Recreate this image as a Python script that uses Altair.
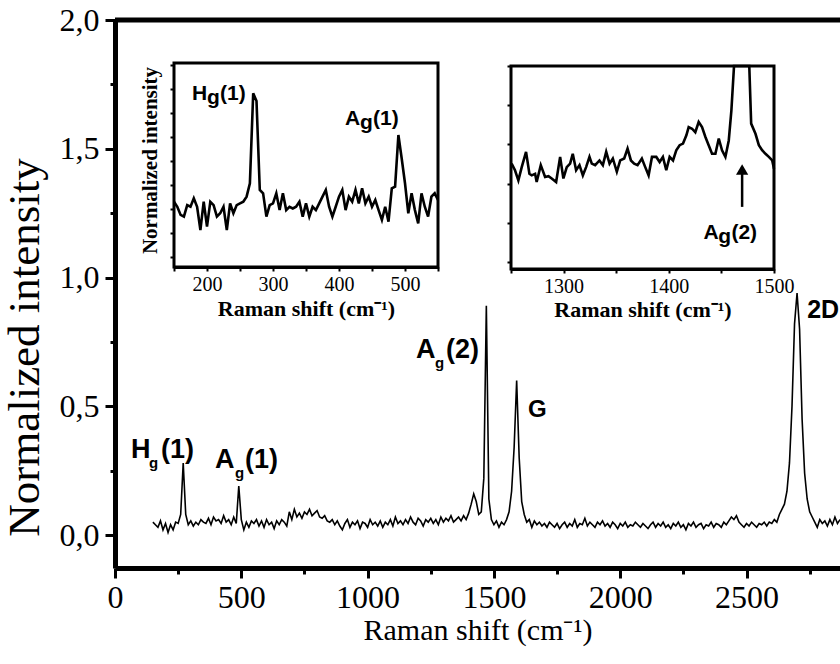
import altair as alt
import pandas as pd

# ---------------- main spectrum ----------------
main_start = 150
main_step = 10
main_intensity = [
    # 150-240
    0.050, 0.040, 0.030, 0.055, 0.020, 0.045, 0.010, 0.040, 0.020, 0.050,
    # 250-340
    0.045, 0.080, 0.280, 0.080, 0.040, 0.055, 0.035, 0.050, 0.040, 0.060,
    # 350-440
    0.050, 0.045, 0.065, 0.040, 0.070, 0.055, 0.060, 0.045, 0.075, 0.050,
    # 450-540
    0.060, 0.040, 0.070, 0.045, 0.190, 0.060, 0.020, 0.050, 0.030, 0.055,
    # 550-640
    0.045, 0.060, 0.035, 0.055, 0.030, 0.060, 0.040, 0.050, 0.025, 0.055,
    # 650-740
    0.040, 0.060, 0.050, 0.035, 0.090, 0.060, 0.100, 0.070, 0.085, 0.065,
    # 750-840
    0.090, 0.080, 0.100, 0.075, 0.085, 0.095, 0.070, 0.065, 0.075, 0.055,
    # 850-940
    0.050, 0.060, 0.040, 0.055, 0.035, 0.020, 0.045, 0.060, 0.030, 0.050,
    # 950-1040
    0.040, 0.055, 0.025, 0.050, 0.045, 0.030, 0.060, 0.040, 0.050, 0.035,
    # 1050-1140
    0.055, 0.030, 0.050, 0.040, 0.060, 0.035, 0.070, 0.045, 0.055, 0.040,
    # 1150-1240
    0.060, 0.045, 0.070, 0.050, 0.040, 0.065, 0.055, 0.035, 0.060, 0.050,
    # 1250-1340
    0.065, 0.045, 0.060, 0.040, 0.070, 0.050, 0.065, 0.055, 0.075, 0.050,
    # 1350-1440
    0.060, 0.070, 0.055, 0.075, 0.060, 0.085, 0.120, 0.160, 0.130, 0.080,
    # 1450-1540
    0.090, 0.220, 0.890, 0.140, 0.060, 0.040, 0.055, 0.030, 0.050, 0.040,
    # 1550-1640
    0.060, 0.090, 0.170, 0.340, 0.600, 0.300, 0.130, 0.080, 0.050, 0.060,
    # 1650-1740
    0.030, 0.055, 0.040, 0.050, 0.035, 0.045, 0.030, 0.050, 0.040, 0.030,
    # 1750-1840
    0.045, 0.025, 0.040, 0.050, 0.030, 0.045, 0.035, 0.060, 0.030, 0.045,
    # 1850-1940
    0.040, 0.065, 0.035, 0.050, 0.040, 0.030, 0.050, 0.040, 0.055, 0.035,
    # 1950-2040
    0.045, 0.030, 0.050, 0.040, 0.025, 0.045, 0.035, 0.050, 0.030, 0.040,
    # 2050-2140
    0.035, 0.050, 0.040, 0.030, 0.045, 0.035, 0.025, 0.040, 0.050, 0.030,
    # 2150-2240
    0.045, 0.035, 0.050, 0.030, 0.040, 0.025, 0.045, 0.035, 0.050, 0.030,
    # 2250-2340
    0.040, 0.020, 0.045, 0.035, 0.050, 0.030, 0.040, 0.045, 0.025, 0.040,
    # 2350-2440
    0.035, 0.050, 0.030, 0.045, 0.040, 0.030, 0.050, 0.040, 0.055, 0.070,
    # 2450-2540
    0.060, 0.075, 0.050, 0.040, 0.030, 0.045, 0.035, 0.050, 0.040, 0.030,
    # 2550-2640
    0.045, 0.040, 0.050, 0.035, 0.050, 0.045, 0.060, 0.050, 0.080, 0.100,
    # 2650-2740
    0.120, 0.170, 0.280, 0.500, 0.820, 0.940, 0.800, 0.450, 0.240, 0.140,
    # 2750-2840
    0.090, 0.070, 0.050, 0.030, 0.060, 0.045, 0.055, 0.035, 0.060, 0.040,
    # 2850-2870
    0.070, 0.045, 0.060,
]
main_shift = [main_start + main_step * i for i in range(len(main_intensity))]

# ---------------- inset 1 (150-550 cm-1) ----------------
inset1_start = 150
inset1_step = 5
inset1_intensity = [
    2.30, 2.09, 1.75, 1.68, 2.16, 2.09, 2.44, 2.09, 1.12, 2.30,
    1.26, 2.30, 2.16, 1.68, 1.82, 2.09, 1.12, 2.23, 1.82, 2.16,
    2.23, 2.30, 2.51, 3.07, 6.82, 6.50, 2.79, 2.65, 1.68, 2.16,
    2.23, 2.65, 1.95, 2.65, 1.95, 2.09, 2.02, 2.09, 2.30, 1.68,
    2.23, 1.68, 2.09, 1.95, 2.23, 2.51, 2.79, 2.09, 1.68, 2.09,
    2.51, 2.79, 1.95, 2.51, 2.30, 2.79, 2.23, 2.86, 2.23, 2.51,
    2.09, 2.37, 1.95, 1.54, 2.09, 1.47, 2.86, 2.93, 5.08, 4.10,
    3.07, 1.82, 2.65, 1.95, 1.40, 2.65, 2.09, 1.68, 2.51, 2.65,
    2.37,
]
inset1_shift = [inset1_start + inset1_step * i for i in range(len(inset1_intensity))]

# ---------------- inset 2 (1250-1500 cm-1) ----------------
inset2_shift = [
    1250.6, 1253.8, 1257.0, 1260.2, 1264.3, 1267.5, 1269.7, 1272.9, 1274.4, 1278.3,
    1282.4, 1285.6, 1288.7, 1292.9, 1296.7, 1299.8, 1303.0, 1306.2, 1308.7, 1311.9,
    1315.1, 1318.3, 1321.4, 1324.6, 1326.8, 1330.0, 1334.1, 1337.3, 1340.5, 1343.7,
    1346.8, 1350.6, 1353.8, 1357.6, 1360.8, 1364.0, 1367.1, 1370.3, 1374.4, 1377.6,
    1380.8, 1384.0, 1388.1, 1391.3, 1394.4, 1397.6, 1400.8, 1404.0, 1407.1, 1410.3,
    1413.5, 1416.7, 1418.9, 1422.1, 1425.2, 1428.4, 1431.6, 1434.8, 1437.9, 1441.1,
    1444.3, 1447.5, 1450.6, 1453.8, 1457.0, 1459.5, 1462.0, 1465.0, 1468.0, 1471.0,
    1474.0, 1476.5, 1478.3, 1482.4, 1485.6, 1488.7, 1491.9, 1495.1, 1498.3, 1500.0,
]
inset2_intensity = [
    2.51, 2.34, 2.08, 2.42, 2.81, 2.25, 2.21, 2.25, 2.04, 2.47,
    2.17, 2.19, 2.13, 2.04, 2.68, 2.13, 2.42, 2.51, 2.76, 2.34,
    2.47, 2.21, 2.42, 2.68, 2.51, 2.47, 2.59, 2.47, 2.81, 2.51,
    2.64, 2.30, 2.59, 2.64, 2.89, 2.59, 2.51, 2.47, 2.64, 2.42,
    2.21, 2.68, 2.68, 2.55, 2.68, 2.34, 2.68, 2.59, 2.85, 2.98,
    3.02, 3.23, 3.44, 3.40, 3.31, 3.57, 3.44, 3.19, 2.98, 2.76,
    2.76, 3.15, 2.85, 2.68, 3.10, 3.87, 5.60, 8.50, 10.0, 9.00,
    6.50, 5.00, 3.53, 3.27, 2.98, 2.85, 2.76, 2.68, 2.59, 2.38,
]

# ---------------- annotations ----------------
main_ann_text = ["H", "g", "(1)", "A", "g", "(1)", "A", "g", "(2)", "G", "2D"]
main_ann_x = [63, 135, 182, 396, 475, 515, 1192, 1267, 1310, 1635, 2740]
main_ann_y = [0.299, 0.26, 0.299, 0.26, 0.221, 0.26, 0.687, 0.649, 0.687, 0.458, 0.843]
main_ann_size = [27, 15, 27, 27, 15, 27, 27, 15, 27, 24, 25]

inset1_ann_text = ["H", "g", "(1)", "A", "g", "(1)"]
inset1_ann_x = [177.3, 200.0, 219.7, 409.1, 431.8, 451.5]
inset1_ann_y = [6.54, 6.37, 6.54, 5.50, 5.33, 5.50]
inset1_ann_size = [21, 21, 21, 21, 21, 21]

inset2_ann_text = ["A", "g", "(2)"]
inset2_ann_x = [1432.9, 1447.1, 1459.5]
inset2_ann_y = [0.583, 0.48, 0.583]
inset2_ann_size = [21, 21, 21]

arrow_x = [1469.7]
arrow_y0 = [1.405]
arrow_y1 = [2.36]

# ---------------- frames ----------------
MAIN_X = [0, 2870]
MAIN_Y = [-0.128, 2.0]
IN1_X = [150, 550]
IN1_Y = [-0.42, 8.08]
IN2_X = [1250, 1500]
IN2_Y = [-0.18, 5.0]

W, H = 725, 548

serif = "Liberation Serif"
sans = "Liberation Sans"

# ---- main scales / axes
xs_main = alt.Scale(domain=MAIN_X, nice=False, zero=False)
ys_main = alt.Scale(domain=MAIN_Y, nice=False, zero=False)
ax_main_x = alt.Axis(
    values=list(range(0, 2751, 250)), format="d",
    labelExpr="datum.value % 500 === 0 ? datum.label : ''",
    tickSize={"condition": {"test": "datum.value % 500 === 0", "value": 10}, "value": 6},
    tickWidth=3, tickColor="black", domainWidth=5, domainColor="black",
    labelFont=serif, labelFontSize=32, labelColor="black", labelPadding=4,
    labelFlush=False, labelOverlap=False, grid=False,
    title="Raman shift (cm⁻¹)", titleFont=serif, titleFontSize=30,
    titleFontWeight="normal", titleColor="black", titleY=71, titleBaseline="alphabetic",
)
ax_main_y = alt.Axis(
    values=[i * 0.25 for i in range(9)],
    labelExpr="round(datum.value*4) % 2 === 0 ? replace(format(datum.value, '.1f'), '.', ',') : ''",
    tickSize={"condition": {"test": "round(datum.value*4) % 2 === 0", "value": 10}, "value": 5},
    tickWidth=3, tickColor="black", domainWidth=5, domainColor="black",
    labelFont=serif, labelFontSize=32, labelColor="black", labelPadding=6,
    labelOverlap=False, grid=False,
    title="Normalized intensity", titleFont=serif, titleFontSize=45,
    titleFontWeight="normal", titleColor="black", titleX=-77, titleY=327,
    titleBaseline="alphabetic", titleAngle=-90,
)
MX = alt.X("shift:Q", scale=xs_main, axis=ax_main_x)
MY = alt.Y("intensity:Q", scale=ys_main, axis=ax_main_y)

main_df = pd.DataFrame({"shift": main_shift, "intensity": main_intensity})
main_line = alt.Chart(main_df).mark_line(color="black", strokeWidth=1.6, clip=True).encode(x=MX, y=MY)
top_df = pd.DataFrame({"intensity": [MAIN_Y[1]]})
top_rule = alt.Chart(top_df).mark_rule(color="black", strokeWidth=5).encode(y=MY)
main_ann_df = pd.DataFrame({"shift": main_ann_x, "intensity": main_ann_y,
                            "label": main_ann_text, "size": main_ann_size})
main_text = alt.Chart(main_ann_df).mark_text(
    align="left", baseline="alphabetic", font=sans, fontWeight="bold", color="black"
).encode(x=MX, y=MY, text="label:N", size=alt.Size("size:Q", scale=None))
main_group = alt.layer(main_line, top_rule, main_text)


def inset_axes(xdom, ydom, xr, yr, xvals, yvals, x_off, y_off, ytitle, ytitle_y, xtitle_y):
    xs = alt.Scale(domain=xdom, range=xr, nice=False, zero=False)
    ys = alt.Scale(domain=ydom, range=yr, nice=False, zero=False, clamp=True)
    ax_x = alt.Axis(
        orient="bottom", offset=x_off, values=xvals, format="d",
        labelExpr="datum.value % 100 === 0 ? datum.label : ''",
        tickSize=4, tickWidth=2, tickColor="black", domainWidth=3, domainColor="black",
        labelFont=serif, labelFontSize=20, labelColor="black", labelPadding=3,
        labelFlush=False, labelOverlap=False, grid=False,
        title="Raman shift (cm⁻¹)", titleFont=serif, titleFontSize=22,
        titleFontWeight="bold", titleColor="black", titleY=xtitle_y, titleBaseline="alphabetic",
    )
    ykw = dict(
        orient="left", offset=y_off, values=yvals, labels=False,
        tickSize=4, tickWidth=2, tickColor="black", domainWidth=3, domainColor="black",
        grid=False,
    )
    if ytitle:
        ykw.update(title=ytitle, titleFont=serif, titleFontSize=21, titleFontWeight="bold",
                   titleColor="black", titleX=-18, titleY=ytitle_y, titleAngle=-90,
                   titleBaseline="alphabetic")
    else:
        ykw.update(title=None)
    ax_y = alt.Axis(**ykw)
    return xs, ys, ax_x, ax_y


# ---- inset 1
xs1, ys1, axx1, axy1 = inset_axes(IN1_X, IN1_Y, [59, 323], [247, 43],
                                  list(range(150, 551, 50)), list(range(0, 9)),
                                  -(H - 247), -59, "Normalized intensity", 140, 48)
X1 = alt.X("s:Q", scale=xs1, axis=axx1)
Y1 = alt.Y("i:Q", scale=ys1, axis=axy1)
frame1 = alt.Chart(pd.DataFrame({"s": [IN1_X[0]], "se": [IN1_X[1]], "i": [IN1_Y[0]], "ie": [IN1_Y[1]]})).mark_rect(
    fill="white", stroke="black", strokeWidth=3
).encode(x=X1, x2="se:Q", y=Y1, y2="ie:Q")
line1 = alt.Chart(pd.DataFrame({"s": inset1_shift, "i": inset1_intensity})).mark_line(
    color="black", strokeWidth=2.6).encode(x=X1, y=Y1)
text1 = alt.Chart(pd.DataFrame({"s": inset1_ann_x, "i": inset1_ann_y, "label": inset1_ann_text,
                                "size": inset1_ann_size})).mark_text(
    align="left", baseline="alphabetic", font=sans, fontWeight="bold", color="black"
).encode(x=X1, y=Y1, text="label:N", size=alt.Size("size:Q", scale=None))
inset1_group = alt.layer(frame1, line1, text1)

# ---- inset 2
xs2, ys2, axx2, axy2 = inset_axes(IN2_X, IN2_Y, [396, 659], [249, 46],
                                  list(range(1250, 1501, 50)), list(range(0, 6)),
                                  -(H - 249), -396, None, 0, 47)
X2 = alt.X("s:Q", scale=xs2, axis=axx2)
Y2 = alt.Y("i:Q", scale=ys2, axis=axy2)
frame2 = alt.Chart(pd.DataFrame({"s": [IN2_X[0]], "se": [IN2_X[1]], "i": [IN2_Y[0]], "ie": [IN2_Y[1]]})).mark_rect(
    fill="white", stroke="black", strokeWidth=3
).encode(x=X2, x2="se:Q", y=Y2, y2="ie:Q")
line2 = alt.Chart(pd.DataFrame({"s": inset2_shift, "i": inset2_intensity})).mark_line(
    color="black", strokeWidth=2.6).encode(x=X2, y=Y2)
text2 = alt.Chart(pd.DataFrame({"s": inset2_ann_x, "i": inset2_ann_y, "label": inset2_ann_text,
                                "size": inset2_ann_size})).mark_text(
    align="left", baseline="alphabetic", font=sans, fontWeight="bold", color="black"
).encode(x=X2, y=Y2, text="label:N", size=alt.Size("size:Q", scale=None))
arrow_df = pd.DataFrame({"s": arrow_x, "i": arrow_y0, "ie": arrow_y1})
arrow_rule = alt.Chart(arrow_df).mark_rule(color="black", strokeWidth=2.5).encode(x=X2, y=Y2, y2="ie:Q")
arrow_head = alt.Chart(pd.DataFrame({"s": arrow_x, "i": arrow_y1})).mark_point(
    shape="triangle-up", filled=True, color="black", size=150, opacity=1
).encode(x=X2, y=Y2)
inset2_group = alt.layer(frame2, line2, text2, arrow_rule, arrow_head)

chart = alt.layer(main_group, inset1_group, inset2_group).resolve_scale(
    x="independent", y="independent"
).properties(
    width=W, height=H,
    autosize=alt.AutoSizeParams(type="none"),
    padding={"left": 115, "top": 20, "right": 0, "bottom": 96},
    background="white",
).configure_view(strokeWidth=0)

chart.save("out.html", embed_options={"renderer": "svg", "actions": False})
